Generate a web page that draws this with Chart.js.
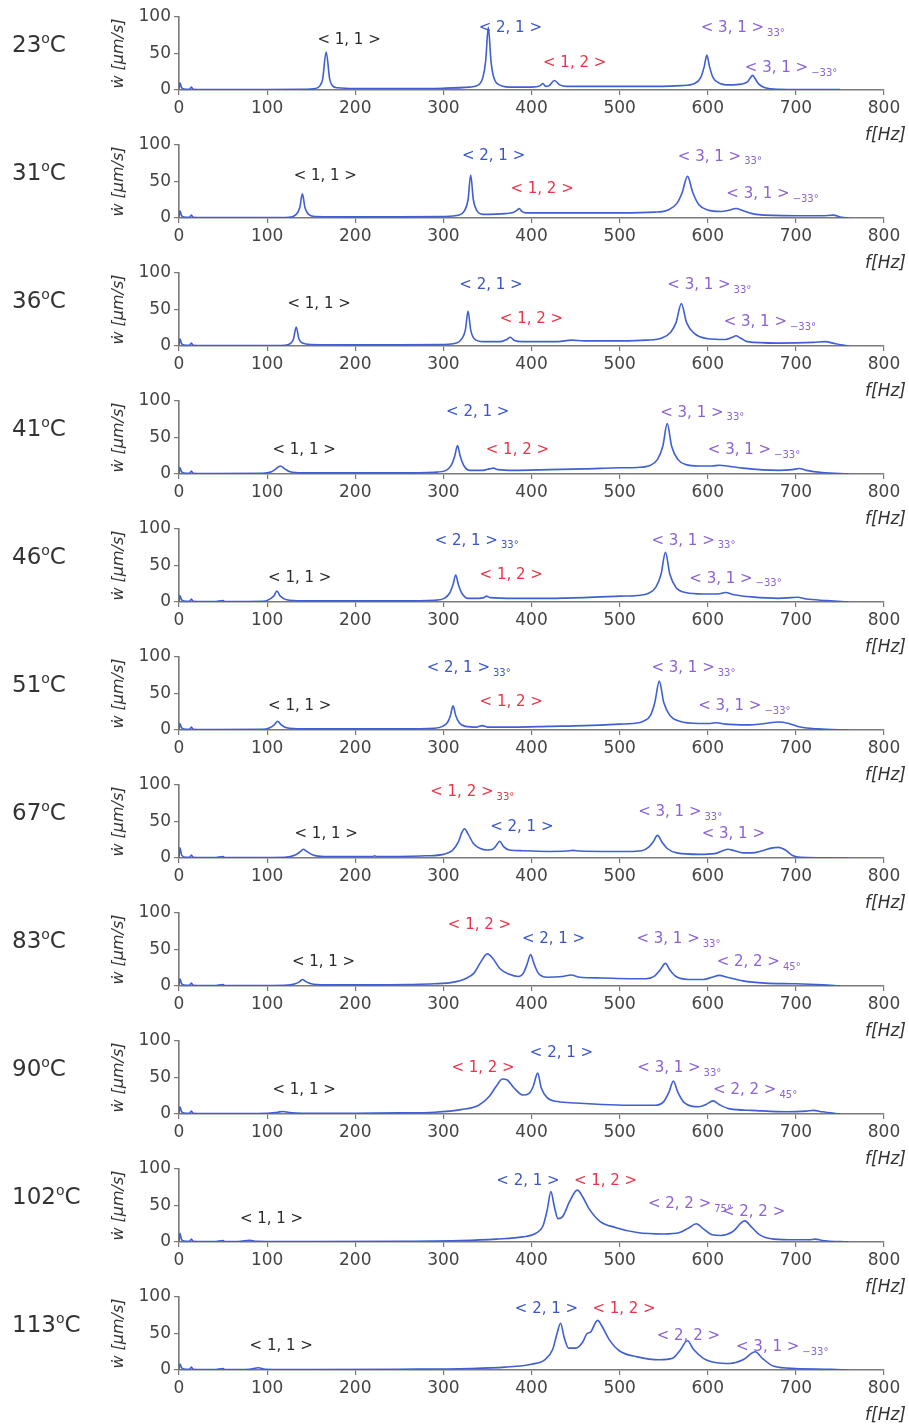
<!DOCTYPE html>
<html>
<head>
<meta charset="utf-8">
<script src="https://cdn.jsdelivr.net/npm/chart.js@4.4.1/dist/chart.umd.min.js"></script>
<style>
  html,body{margin:0;padding:0;background:#fff;}
  body{width:909px;height:1425px;position:relative;overflow:hidden;font-family:"DejaVu Sans",sans-serif;}
  .panel{position:absolute;left:0;width:909px;height:128px;}
  .temp{position:absolute;left:12px;font-size:23px;color:#333;line-height:1;}
  .temp sup{font-size:14px;vertical-align:top;position:relative;top:-2px;}
  .fhz{position:absolute;right:3px;font-size:17px;color:#333;font-style:italic;line-height:1;}
</style>
</head>
<body>
<script>
// ---- data: temperatures, spectra [f (Hz), velocity (um/s)], mode labels [f, w, text, subscript, colour key] ----
const temps = ['23', '31', '36', '41', '46', '51', '67', '83', '90', '102', '113'];
const xTicks = [0, 100, 200, 300, 400, 500, 600, 700, 800];
const yTicks = [0, 50, 100];

const spec23 = [[0,0],[1,10],[3,3],[8,1],[12,1],[14,4],[16,1],[40,0.5],[100,0.5],[140,0.8],[155,2],[160,6],[163,15],[167,52],[171,15],[174,6],[180,3],[200,2],[250,2],[300,2.5],[330,4],[340,7],[345,18],[348,40],[351,86],[354,40],[357,18],[362,8],[375,4],[400,4],[410,6],[413,9],[416,5],[420,6],[426,13],[432,7],[440,5],[470,5],[500,5],[540,5],[570,6],[585,9],[592,17],[596,32],[599,48],[602,32],[606,17],[614,9],[625,7],[638,8],[645,11],[648,16],[651,20],[654,15],[658,8],[665,3],[680,1],[750,0.5]];
const spec31 = [[0,0],[1,10],[3,3],[8,1],[12,1],[14,4],[16,1],[40,0.5],[100,0.5],[125,1],[133,5],[137,14],[140,33],[143,14],[147,5],[155,2],[200,1.5],[250,1.5],[300,2],[318,4],[324,10],[328,25],[331,59],[334,25],[338,10],[345,5],[370,6],[380,8],[384,11],[386,13],[389,9],[394,7],[410,7],[450,7],[500,7],[540,8],[555,11],[565,20],[571,35],[577,57],[583,35],[590,18],[600,11],[615,9],[625,11],[632,13],[640,10],[655,5],[700,3],[730,3],[742,4],[752,1],[760,0]];
const spec36 = [[0,0],[1,10],[3,3],[8,1],[12,1],[14,4],[16,1],[40,0.5],[100,0.5],[120,1],[127,4],[130,10],[133,26],[136,10],[140,4],[150,2],[200,1.5],[250,1.5],[300,2],[315,4],[321,10],[325,22],[328,48],[331,22],[335,10],[345,6],[365,6],[372,9],[376,12],[380,8],[390,6],[430,6],[445,8],[460,7],[500,7],[530,8],[548,11],[558,19],[564,32],[570,58],[576,32],[584,18],[600,10],[620,9],[628,12],[632,14],[637,11],[645,6],[680,4],[720,5],[733,6],[745,3],[760,0]];
const spec41 = [[0,0],[1,9],[3,3],[8,1],[12,1],[14,4],[16,1],[40,0.5],[95,0.8],[105,3],[110,7],[115,11],[120,7],[126,3],[140,1.5],[200,1.5],[250,1.5],[290,2.5],[303,5],[309,12],[313,25],[316,39],[319,25],[323,12],[330,5],[345,5],[352,7],[357,8],[362,6],[380,5],[420,6],[460,7],[500,8.5],[520,9],[535,12],[543,20],[549,38],[554,69],[559,38],[566,20],[575,13],[590,11],[605,11],[613,12],[622,11],[640,8],[680,5],[696,6],[704,7.5],[712,5],[730,2],[760,0]];
const spec46 = [[0,0],[1,9],[3,3],[8,1],[12,1],[14,4],[16,1],[40,0.5],[50,2],[52,0.5],[95,0.8],[103,4],[108,9],[111,15],[115,8],[122,3],[140,1.5],[200,1.5],[250,1.5],[290,2.5],[301,5],[307,12],[311,24],[314,37],[317,24],[321,12],[328,5],[340,5],[346,6],[349,8],[353,6],[380,5],[420,5],[460,6],[500,8],[520,9],[533,12],[541,20],[547,38],[552,68],[557,38],[564,20],[575,13],[595,11],[612,11],[620,13],[630,10],[650,7],[680,5],[695,6],[702,6.5],[712,4],[735,2],[760,0]];
const spec51 = [[0,0],[1,9],[3,3],[8,1],[12,1],[14,4],[16,1],[40,0.5],[95,0.8],[103,3],[108,7],[112,12],[116,7],[122,3],[140,1.5],[200,1.5],[250,1.5],[290,2.5],[299,5],[305,11],[308,20],[311,33],[314,20],[318,10],[325,5],[338,4],[344,6],[350,4],[380,4],[420,5],[460,6],[500,8],[515,9],[527,12],[535,20],[540,38],[545,67],[550,38],[557,20],[568,12],[590,9],[603,9],[610,10],[620,8],[645,7],[665,9],[680,11],[692,9],[705,4],[725,1.5],[760,0]];
const spec67 = [[0,0],[1,14],[3,4],[8,1],[12,1],[14,4],[16,1],[40,0.5],[50,2],[52,0.5],[120,1],[132,4],[138,9],[141,12],[145,9],[152,4],[165,2],[220,2],[222,3],[224,2],[280,3],[300,5],[310,10],[317,22],[321,35],[324,40],[328,33],[334,20],[342,13],[350,11],[356,12],[360,17],[364,23],[368,16],[375,11],[390,10],[420,9],[440,9.5],[447,10.5],[455,9.5],[480,9],[510,9],[525,10],[533,15],[538,22],[543,31],[548,22],[554,13],[565,7],[590,5],[608,6],[617,10],[623,12],[630,10],[640,7],[650,7],[662,10],[672,13.5],[680,14.5],[688,11],[697,3],[705,1],[760,0]];
const spec83 = [[0,0],[1,10],[3,3],[8,1],[12,1],[14,4],[16,1],[40,0.5],[50,2],[52,0.5],[120,1],[132,3],[137,6],[140,9],[144,6],[150,3],[165,1.5],[220,1.5],[260,2],[290,3],[310,5],[325,10],[335,18],[342,32],[350,44],[356,38],[364,24],[375,16],[385,13],[391,18],[395,30],[399,43],[403,30],[408,17],[418,12],[435,13],[445,15],[455,12],[480,11],[510,10],[530,10],[540,14],[546,22],[552,31],[557,22],[564,13],[578,9],[595,9],[605,12],[613,14.5],[622,12],[640,7],[665,4],[700,3],[730,1.5],[750,0]];
const spec90 = [[0,0],[1,10],[3,3],[8,1],[12,1],[14,4],[16,1],[40,0.5],[100,1],[112,2.5],[118,3.5],[125,2],[140,1],[200,1],[250,1.5],[290,2.5],[320,6],[340,12],[352,24],[360,38],[367,48],[372,47],[380,36],[390,26],[397,28],[402,38],[407,56],[411,36],[418,22],[430,17],[450,15],[480,13],[510,12],[540,12],[550,17],[556,30],[561,45],[566,30],[573,16],[590,10],[598,13],[606,18],[613,13],[625,7],[650,5],[690,3],[712,4],[720,5],[730,3],[750,0]];
const spec102 = [[0,0],[1,12],[3,3],[8,1],[12,1],[14,4],[16,1],[40,0.5],[50,2],[52,0.5],[70,1],[80,2.5],[88,1],[150,0.5],[250,1],[320,2],[360,4],[390,7],[405,12],[413,22],[418,45],[422,69],[426,48],[430,32],[436,36],[443,55],[452,71],[458,62],[465,46],[478,28],[495,20],[520,13],[550,11],[568,13],[578,19],[587,25],[595,18],[605,10],[615,9],[628,14],[642,29],[650,20],[660,9],[675,4],[700,3],[715,3],[722,4],[730,2],[760,0]];
const spec113 = [[0,0],[1,8],[3,3],[8,1],[12,1],[14,4],[16,1],[40,0.5],[50,2],[52,0.5],[80,1],[90,3],[98,1],[150,0.5],[250,1],[330,2],[370,4],[400,8],[415,14],[424,28],[429,50],[433,64],[437,45],[442,30],[450,30],[458,38],[463,50],[467,52],[475,68],[480,60],[488,42],[500,26],[520,18],[545,14],[560,16],[568,26],[577,40],[584,28],[595,16],[610,10],[625,9],[640,14],[654,25],[662,16],[675,5],[700,2],[740,1],[760,0]];

const lab23 = [[193,68,'< 1, 1 >','','k'],[376,85,'< 2, 1 >','','b'],[449,37,'< 1, 2 >','','r'],[628,85,'< 3, 1 >','33°','p'],[678,30,'< 3, 1 >','−33°','p']];
const lab31 = [[166,58,'< 1, 1 >','','k'],[357,85,'< 2, 1 >','','b'],[412,39,'< 1, 2 >','','r'],[602,84,'< 3, 1 >','33°','p'],[657,33,'< 3, 1 >','−33°','p']];
const lab36 = [[159,58,'< 1, 1 >','','k'],[354,83,'< 2, 1 >','','b'],[400,37,'< 1, 2 >','','r'],[590,83,'< 3, 1 >','33°','p'],[654,33,'< 3, 1 >','−33°','p']];
const lab41 = [[142,33,'< 1, 1 >','','k'],[339,85,'< 2, 1 >','','b'],[384,33,'< 1, 2 >','','r'],[582,84,'< 3, 1 >','33°','p'],[636,33,'< 3, 1 >','−33°','p']];
const lab46 = [[137,33,'< 1, 1 >','','k'],[326,84,'< 2, 1 >','33°','b'],[377,37,'< 1, 2 >','','r'],[572,84,'< 3, 1 >','33°','p'],[615,32,'< 3, 1 >','−33°','p']];
const lab51 = [[137,33,'< 1, 1 >','','k'],[317,85,'< 2, 1 >','33°','b'],[377,38,'< 1, 2 >','','r'],[572,85,'< 3, 1 >','33°','p'],[625,33,'< 3, 1 >','−33°','p']];
const lab67 = [[167,33,'< 1, 1 >','','k'],[321,90,'< 1, 2 >','33°','r'],[389,43,'< 2, 1 >','','b'],[557,63,'< 3, 1 >','33°','p'],[629,33,'< 3, 1 >','','p']];
const lab83 = [[164,33,'< 1, 1 >','','k'],[341,84,'< 1, 2 >','','r'],[425,64,'< 2, 1 >','','b'],[555,64,'< 3, 1 >','33°','p'],[646,33,'< 2, 2 >','45°','p']];
const lab90 = [[142,33,'< 1, 1 >','','k'],[345,63,'< 1, 2 >','','r'],[434,84,'< 2, 1 >','','b'],[556,63,'< 3, 1 >','33°','p'],[642,33,'< 2, 2 >','45°','p']];
const lab102 = [[105,31,'< 1, 1 >','','k'],[396,83,'< 2, 1 >','','b'],[484,83,'< 1, 2 >','','r'],[568,52,'< 2, 2 >','75°','p'],[652,41,'< 2, 2 >','','p']];
const lab113 = [[116,33,'< 1, 1 >','','k'],[417,83,'< 2, 1 >','','b'],[505,83,'< 1, 2 >','','r'],[578,47,'< 2, 2 >','','p'],[668,31,'< 3, 1 >','−33°','p']];

const spectra = [spec23, spec31, spec36, spec41, spec46, spec51, spec67, spec83, spec90, spec102, spec113];
const modeLabels = [lab23, lab31, lab36, lab41, lab46, lab51, lab67, lab83, lab90, lab102, lab113];

// ---- styles ----
const labelColors = {k:'#2a2a2a', b:'#3a55c8', r:'#ee3348', p:'#8a62d6'};
const PANEL_H = 128;

const modeLabelPlugin = {
  id: 'modeLabels',
  afterDatasetsDraw(chart, args, opts) {
    const ctx = chart.ctx, xs = chart.scales.x, ys = chart.scales.y;
    ctx.save();
    for (const [f, w, txt, sub, c] of opts.items) {
      const px = xs.getPixelForValue(f), py = ys.getPixelForValue(w);
      ctx.fillStyle = labelColors[c];
      ctx.font = '15px "DejaVu Sans"';
      ctx.textAlign = 'center';
      ctx.textBaseline = 'middle';
      ctx.fillText(txt, px, py);
      if (sub) {
        const tw = ctx.measureText(txt).width;
        ctx.font = '10px "DejaVu Sans"';
        ctx.textAlign = 'left';
        ctx.fillText(sub, px + tw / 2 + 3, py + 5);
      }
    }
    ctx.restore();
  }
};

temps.forEach((t, i) => {
  const top = i * PANEL_H;
  const wrap = document.createElement('div');
  wrap.className = 'panel';
  wrap.style.top = top + 'px';
  const cv = document.createElement('canvas');
  cv.width = 909; cv.height = PANEL_H;
  cv.style.width = '909px'; cv.style.height = PANEL_H + 'px';
  wrap.appendChild(cv);
  document.body.appendChild(wrap);

  const tl = document.createElement('div');
  tl.className = 'temp';
  tl.style.top = (top + 33) + 'px';
  tl.innerHTML = t + '<sup>o</sup>C';
  document.body.appendChild(tl);

  const fl = document.createElement('div');
  fl.className = 'fhz';
  fl.style.top = (top + 126) + 'px';
  fl.textContent = 'f[Hz]';
  document.body.appendChild(fl);

  new Chart(cv, {
    type: 'line',
    data: {
      datasets: [{
        data: spectra[i].map(p => ({x: p[0], y: p[1]})),
        borderColor: '#3f5fd2',
        borderWidth: 1.6,
        pointRadius: 0,
        fill: false,
        cubicInterpolationMode: 'monotone'
      }]
    },
    options: {
      responsive: false,
      animation: false,
      events: [],
      layout: {padding: {left: 100, right: 25, top: 17, bottom: 0}},
      plugins: {
        legend: {display: false},
        tooltip: {enabled: false},
        modeLabels: {items: modeLabels[i]}
      },
      scales: {
        x: {
          type: 'linear', min: xTicks[0], max: xTicks[xTicks.length - 1],
          afterBuildTicks: s => { s.ticks = xTicks.map(v => ({value: v})); },
          afterFit: s => { s.height = 38; },
          ticks: {autoSkip: false, maxRotation: 0, color: '#444', padding: 3, font: {family: 'DejaVu Sans', size: 17}},
          grid: {drawOnChartArea: false, tickLength: 5, color: '#777', lineWidth: 1.2},
          border: {color: '#7a7a7a', width: 1.6}
        },
        y: {
          type: 'linear', min: yTicks[0], max: yTicks[yTicks.length - 1],
          afterBuildTicks: s => { s.ticks = yTicks.map(v => ({value: v})); },
          afterFit: s => { s.width = 79; },
          ticks: {color: '#444', padding: 3, font: {family: 'DejaVu Sans', size: 17}},
          grid: {drawOnChartArea: false, tickLength: 5, color: '#777', lineWidth: 1.2},
          border: {color: '#7a7a7a', width: 1.6},
          title: {display: true, text: 'ẇ [μm/s]', color: '#333', font: {family: 'DejaVu Sans', size: 16, style: 'italic'}, padding: {top: 9, bottom: 0}}
        }
      }
    },
    plugins: [modeLabelPlugin]
  });
});
</script>
</body>
</html>
